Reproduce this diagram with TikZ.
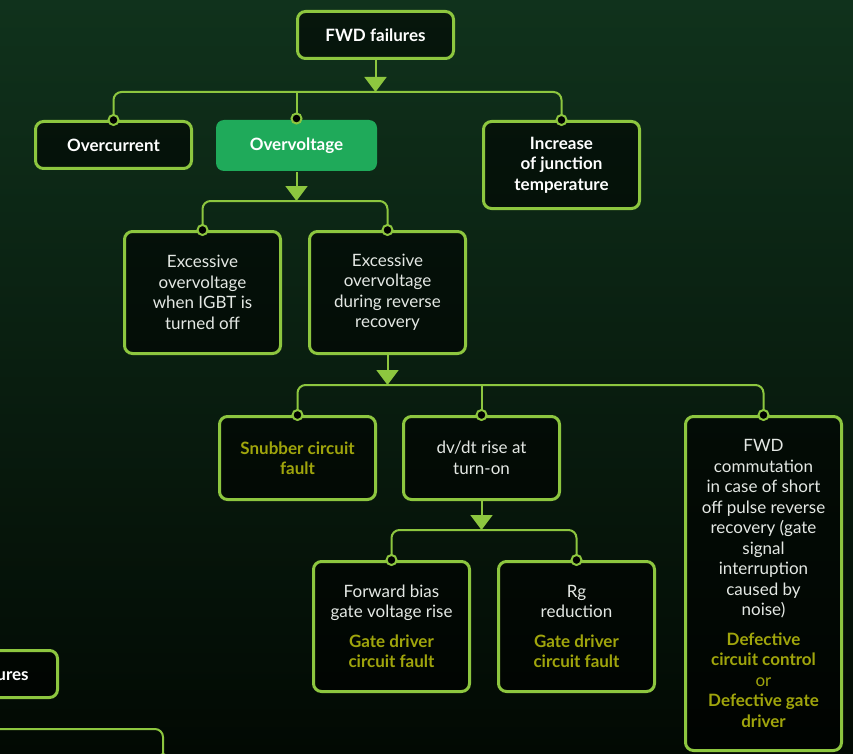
\documentclass[tikz,border=0pt]{standalone}
\usepackage{fontspec}
\setmainfont{Lato}
\usetikzlibrary{arrows.meta}

\definecolor{lime}{RGB}{141,198,63}
\definecolor{okgreen}{RGB}{31,170,90}
\definecolor{olive}{RGB}{160,165,12}
\definecolor{fgtext}{RGB}{228,232,228}
\definecolor{bgtop}{RGB}{16,50,28}
\definecolor{bgbot}{RGB}{2,9,3}

\newcommand{\hint}[1]{{\bfseries\color{olive}#1}}

\begin{document}
\begin{tikzpicture}[x=1pt,y=-1pt,
    box/.style={draw=lime, line width=3pt, rounded corners=8pt, fill=black,
        fill opacity=0.55, text opacity=1, minimum width=156pt, inner sep=0pt,
        align=center, text=fgtext, font=\fontsize{17}{20.5}\selectfont},
    titlebox/.style={box, text=white, font=\fontsize{17}{20.5}\selectfont\bfseries},
    wire/.style={lime, line width=2pt},
    arr/.style={wire, -{Triangle[width=22pt,length=15pt]}},
    dot/.style={draw=lime, fill=black, line width=2pt}]

    \useasboundingbox (0,0) rectangle (853,754);
    \clip (0,0) rectangle (853,754);
    \shade[top color=bgtop, bottom color=bgbot] (0,0) rectangle (853,754);

    % boxes
    \node[titlebox, minimum height=47pt] (fwdfail) at (375.5,35) {FWD failures};
    \node[titlebox, minimum height=47pt] (ocur) at (113.5,145) {Overcurrent};
    \node[titlebox, minimum width=161pt, minimum height=51pt, draw=none,
        fill=okgreen, fill opacity=1] (ovolt) at (296.5,145.5) {Overvoltage};
    \node[titlebox, minimum height=87pt] (tjunc) at (561.5,165) {Increase\\of junction\\temperature};
    \node[box, minimum height=122pt] (offvolt) at (202.5,292.5)
        {Excessive\\overvoltage\\when IGBT is\\turned off};
    \node[box, minimum height=122pt] (rrvolt) at (387.5,292.5)
        {Excessive\\overvoltage\\during reverse\\recovery};
    \node[box, minimum height=83pt] (snub) at (297.5,458) {\hint{Snubber circuit}\\\hint{fault}};
    \node[box, minimum height=83pt] (dvdt) at (481.5,458) {dv/dt rise at\\turn-on};
    \node[box, minimum height=334pt] (comm) at (763.5,583.5)
        {FWD\\commutation\\in case of short\\off pulse reverse\\recovery (gate\\signal\\interruption\\caused by\\noise)\\[9pt]
        \hint{Defective}\\\hint{circuit control}\\{\color{olive}or}\\\hint{Defective gate}\\\hint{driver}};
    \node[box, minimum height=130pt] (fbias) at (391.5,626.5)
        {Forward bias\\gate voltage rise\\[9pt]\hint{Gate driver}\\\hint{circuit fault}};
    \node[box, minimum height=130pt] (rgred) at (576.5,626.5)
        {Rg\\reduction\\[9pt]\hint{Gate driver}\\\hint{circuit fault}};
    \node[titlebox, minimum height=47pt] (igbtfail) at (-20.5,674) {IGBT failures};

    % level 1
    \coordinate (bus1) at (375.5,92);
    \draw[arr] (fwdfail.south) -- (bus1);
    \draw[wire, rounded corners=8pt] (ocur.north) |- (bus1) -| (tjunc.north);
    \draw[wire] (ovolt.north) -- (ovolt.north |- bus1);
    \draw[dot] (ocur.north) circle (5pt);
    \draw[dot] (ovolt.north) circle (5pt);
    \draw[dot] (tjunc.north) circle (5pt);

    % level 2
    \coordinate (bus2) at (296.5,201);
    \draw[arr] (ovolt.south) -- (bus2);
    \draw[wire, rounded corners=8pt] (offvolt.north) |- (bus2) -| (rrvolt.north);
    \draw[dot] (offvolt.north) circle (5pt);
    \draw[dot] (rrvolt.north) circle (5pt);

    % level 3
    \coordinate (bus3) at (387.5,385);
    \draw[arr] (rrvolt.south) -- (bus3);
    \draw[wire, rounded corners=8pt] (snub.north) |- (bus3) -| (comm.north);
    \draw[wire] (dvdt.north) -- (dvdt.north |- bus3);
    \draw[dot] (snub.north) circle (5pt);
    \draw[dot] (dvdt.north) circle (5pt);
    \draw[dot] (comm.north) circle (5pt);

    % level 4
    \coordinate (bus4) at (481.5,530);
    \draw[arr] (dvdt.south) -- (bus4);
    \draw[wire, rounded corners=8pt] (fbias.north) |- (bus4) -| (rgred.north);
    \draw[dot] (fbias.north) circle (5pt);
    \draw[dot] (rgred.north) circle (5pt);

    % next branch, cut by the edge
    \coordinate (offl) at (-10,729);
    \coordinate (offb) at (163,780);
    \draw[wire, rounded corners=8pt] (offl) -| (offb);
    \draw[dot] (163,759) circle (5pt);
\end{tikzpicture}
\end{document}
